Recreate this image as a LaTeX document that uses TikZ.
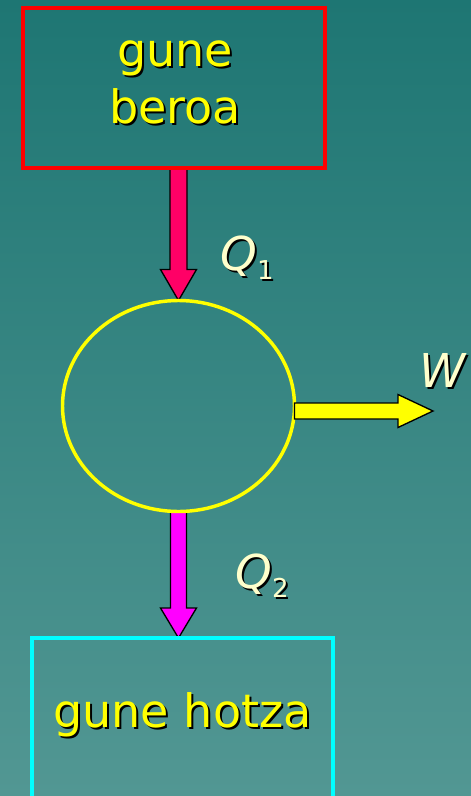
\documentclass[tikz,border=0pt]{standalone}
\usepackage{fontspec}
\setmainfont{DejaVu Sans}
\usetikzlibrary{shapes.geometric,calc}
\definecolor{bgtop}{RGB}{30,118,115}
\definecolor{bgbot}{RGB}{82,151,147}
\definecolor{arrowpink}{RGB}{255,0,102}
\definecolor{arrowmag}{RGB}{255,0,255}
\definecolor{boxcyan}{RGB}{0,255,255}
\definecolor{boxred}{RGB}{255,0,0}
\definecolor{ylw}{RGB}{255,255,0}
\definecolor{cream}{RGB}{255,255,204}
\newcommand\shadowtext[1]{\makebox[0pt][l]{\kern1.5pt\raisebox{-1.5pt}{\textcolor{black}{#1}}}#1}
\pgfdeclarelayer{bglayer}
\pgfdeclarelayer{backlayer}
\pgfsetlayers{bglayer,backlayer,main}
\begin{document}
\begin{tikzpicture}[x=0.75pt,y=-0.75pt,
  reservoir/.style={draw,line width=3pt,inner sep=0,outer sep=0},
  boxtext/.style={text=ylw,font=\fontsize{34.5}{40}\selectfont,anchor=base,inner sep=0},
  sym/.style={text=cream,font=\fontsize{35}{40}\selectfont,anchor=base west,inner sep=0},
  blockarrow/.style={draw=black,line width=1pt,line join=miter}]
\useasboundingbox (0,0) rectangle (471,796);
\clip (0,0) rectangle (471,796);
\begin{pgfonlayer}{bglayer}
\fill[top color=bgtop,bottom color=bgbot] (0,0) rectangle (471,796);
\end{pgfonlayer}
% reservoirs and engine
\node[reservoir,draw=boxred,minimum width=226.5pt,minimum height=120pt] (hot) at (174,88) {};
\node[reservoir,draw=boxcyan,minimum width=225.75pt,minimum height=196.5pt] (cold) at (182.5,769) {};
\node[draw=ylw,line width=2.6pt,ellipse,minimum width=174pt,minimum height=158.25pt,inner sep=0,outer sep=0] (eng) at (178.5,406) {};
% texts
\node[boxtext] (hot1) at (175,66) {\shadowtext{gune}};
\node[boxtext] (hot2) at (175,123) {\shadowtext{beroa}};
\node[boxtext] (coldt) at (182.5,727) {\shadowtext{gune hotza}};
\node[sym] (q1) at (220,270) {\shadowtext{{\itshape Q}}\raisebox{-6.75pt}{\fontsize{19.5}{20}\selectfont\shadowtext{1}}};
\node[sym] (q2) at (235,588) {\shadowtext{{\itshape Q}}\raisebox{-6.75pt}{\fontsize{19.5}{20}\selectfont\shadowtext{2}}};
\node[sym] (w) at (419,387) {\shadowtext{{\itshape W}}};
% arrows
\coordinate (p0) at (hot.south -| eng.north);
\coordinate (m0) at (eng.south);
\coordinate (m1) at (eng.south |- cold.north);
\coordinate (wtip) at (433,411);
\coordinate (w0) at (eng.east |- wtip);
\begin{pgfonlayer}{backlayer}
\draw[blockarrow,fill=arrowpink] ($(p0)+(-8.5,0)$) -- ($(eng.north)+(-8.5,-31)$) -- ($(eng.north)+(-18,-31)$) -- (eng.north) -- ($(eng.north)+(18,-31)$) -- ($(eng.north)+(8.5,-31)$) -- ($(p0)+(8.5,0)$) -- cycle;
\draw[blockarrow,fill=arrowmag] ($(m0)+(-8,0)$) -- ($(m1)+(-8,-30)$) -- ($(m1)+(-18,-30)$) -- (m1) -- ($(m1)+(18,-30)$) -- ($(m1)+(8,-30)$) -- ($(m0)+(8,0)$) -- cycle;
\end{pgfonlayer}
\draw[blockarrow,fill=ylw] ($(w0)+(0,-8)$) -- ($(wtip)+(-35,-8)$) -- ($(wtip)+(-35,-16.5)$) -- (wtip) -- ($(wtip)+(-35,16.5)$) -- ($(wtip)+(-35,8)$) -- ($(w0)+(0,8)$) -- cycle;
\end{tikzpicture}
\end{document}
